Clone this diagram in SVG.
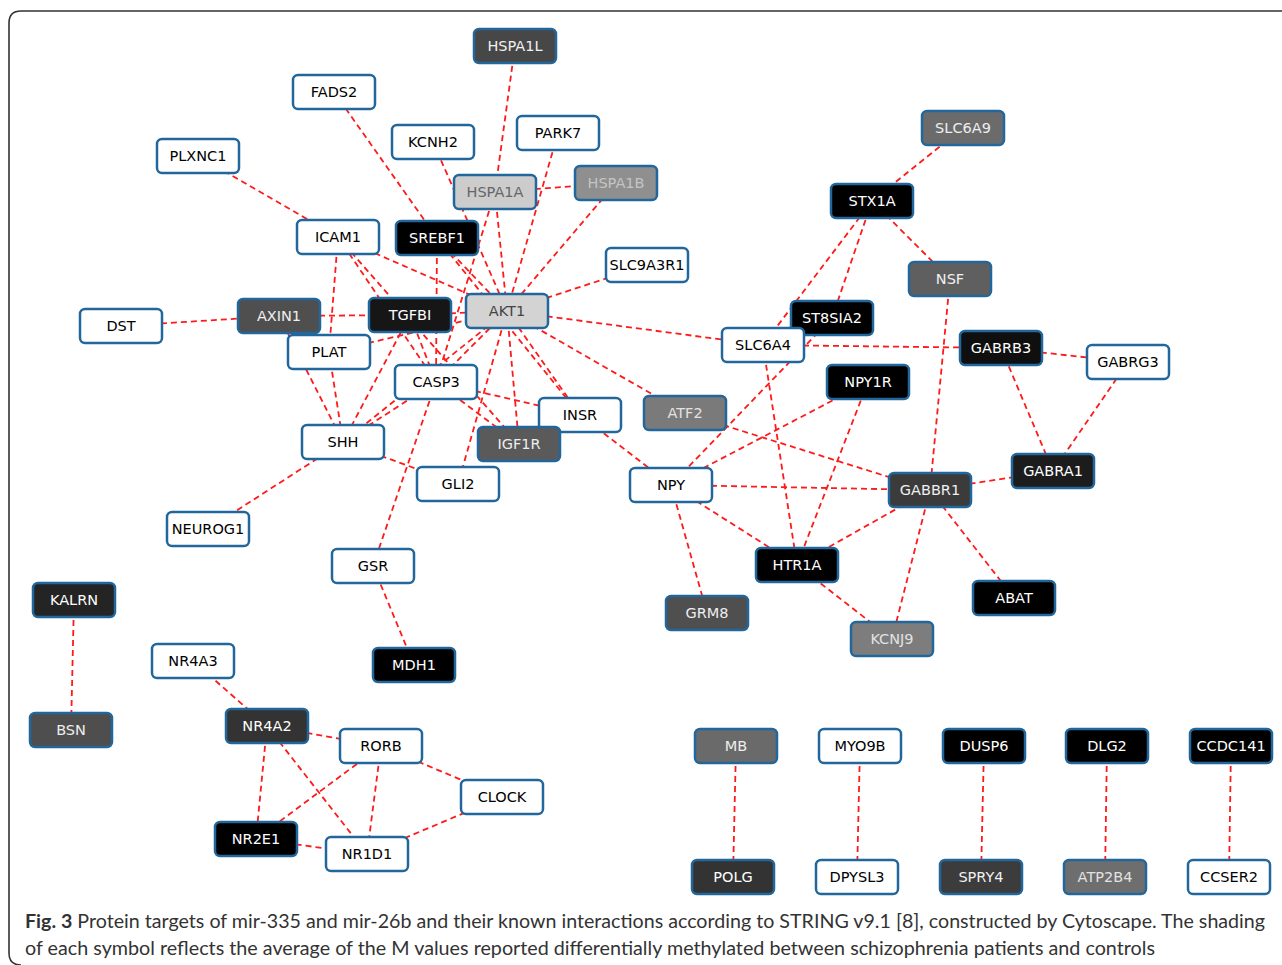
<svg xmlns="http://www.w3.org/2000/svg" width="1282" height="965" viewBox="0 0 1282 965">
<style>
.e line{stroke:#ff1a1a;stroke-width:1.8;stroke-dasharray:6 4;fill:none}
.n rect{stroke:#22679c;stroke-width:2.5;width:82px;height:34px}
.n text{font-family:"DejaVu Sans",sans-serif;font-size:14.5px;text-anchor:middle}
.w rect{fill:#ffffff}.w text{fill:#000}
.cap{font-family:Lato,"Open Sans",sans-serif;font-size:18.5px;fill:#333}
</style>
<rect x="0" y="0" width="1282" height="965" fill="#fff"/>
<path d="M1290 11 H21 Q9 11 9 23 V953 Q9 965 21 965" fill="none" stroke="#333" stroke-width="1.6"/>
<g id="connectors" class="e">
<line x1="515" y1="46" x2="495" y2="192"/>
<line x1="334" y1="92" x2="437" y2="238"/>
<line x1="433" y1="142" x2="507" y2="311"/>
<line x1="558" y1="133" x2="507" y2="311"/>
<line x1="495" y1="192" x2="616" y2="183"/>
<line x1="616" y1="183" x2="507" y2="311"/>
<line x1="495" y1="192" x2="507" y2="311"/>
<line x1="495" y1="192" x2="436" y2="382"/>
<line x1="647" y1="265" x2="507" y2="311"/>
<line x1="198" y1="156" x2="338" y2="237"/>
<line x1="338" y1="237" x2="507" y2="311"/>
<line x1="338" y1="237" x2="329" y2="352"/>
<line x1="338" y1="237" x2="436" y2="382"/>
<line x1="338" y1="237" x2="519" y2="444"/>
<line x1="437" y1="238" x2="507" y2="311"/>
<line x1="437" y1="238" x2="580" y2="415"/>
<line x1="437" y1="238" x2="436" y2="382"/>
<line x1="121" y1="326" x2="279" y2="316"/>
<line x1="279" y1="316" x2="410" y2="315"/>
<line x1="410" y1="315" x2="507" y2="311"/>
<line x1="279" y1="316" x2="343" y2="442"/>
<line x1="329" y1="352" x2="343" y2="442"/>
<line x1="329" y1="352" x2="507" y2="311"/>
<line x1="410" y1="315" x2="436" y2="382"/>
<line x1="410" y1="315" x2="343" y2="442"/>
<line x1="343" y1="442" x2="436" y2="382"/>
<line x1="343" y1="442" x2="507" y2="311"/>
<line x1="436" y1="382" x2="507" y2="311"/>
<line x1="507" y1="311" x2="580" y2="415"/>
<line x1="507" y1="311" x2="519" y2="444"/>
<line x1="507" y1="311" x2="458" y2="484"/>
<line x1="507" y1="311" x2="685" y2="413"/>
<line x1="507" y1="311" x2="763" y2="345"/>
<line x1="436" y1="382" x2="580" y2="415"/>
<line x1="436" y1="382" x2="519" y2="444"/>
<line x1="436" y1="382" x2="373" y2="566"/>
<line x1="343" y1="442" x2="458" y2="484"/>
<line x1="343" y1="442" x2="208" y2="529"/>
<line x1="580" y1="415" x2="671" y2="485"/>
<line x1="373" y1="566" x2="414" y2="665"/>
<line x1="963" y1="128" x2="872" y2="201"/>
<line x1="872" y1="201" x2="950" y2="279"/>
<line x1="872" y1="201" x2="832" y2="318"/>
<line x1="872" y1="201" x2="763" y2="345"/>
<line x1="832" y1="318" x2="671" y2="485"/>
<line x1="763" y1="345" x2="1001" y2="348"/>
<line x1="763" y1="345" x2="797" y2="565"/>
<line x1="950" y1="279" x2="930" y2="490"/>
<line x1="1001" y1="348" x2="1128" y2="362"/>
<line x1="1001" y1="348" x2="1053" y2="471"/>
<line x1="1128" y1="362" x2="1053" y2="471"/>
<line x1="930" y1="490" x2="1053" y2="471"/>
<line x1="868" y1="382" x2="671" y2="485"/>
<line x1="868" y1="382" x2="797" y2="565"/>
<line x1="685" y1="413" x2="930" y2="490"/>
<line x1="671" y1="485" x2="930" y2="490"/>
<line x1="671" y1="485" x2="797" y2="565"/>
<line x1="671" y1="485" x2="707" y2="613"/>
<line x1="930" y1="490" x2="797" y2="565"/>
<line x1="930" y1="490" x2="892" y2="639"/>
<line x1="930" y1="490" x2="1014" y2="598"/>
<line x1="797" y1="565" x2="892" y2="639"/>
<line x1="74" y1="600" x2="71" y2="730"/>
<line x1="193" y1="661" x2="267" y2="726"/>
<line x1="267" y1="726" x2="381" y2="746"/>
<line x1="267" y1="726" x2="256" y2="839"/>
<line x1="267" y1="726" x2="367" y2="854"/>
<line x1="381" y1="746" x2="256" y2="839"/>
<line x1="381" y1="746" x2="367" y2="854"/>
<line x1="381" y1="746" x2="502" y2="797"/>
<line x1="502" y1="797" x2="367" y2="854"/>
<line x1="256" y1="839" x2="367" y2="854"/>
<line x1="736" y1="746" x2="733" y2="877"/>
<line x1="860" y1="746" x2="857" y2="877"/>
<line x1="984" y1="746" x2="981" y2="877"/>
<line x1="1107" y1="746" x2="1105" y2="877"/>
<line x1="1231" y1="746" x2="1229" y2="877"/>
</g>
<g id="n-HSPA1L" class="n"><rect x="474" y="29" rx="5" fill="#474747"/><text x="515" y="51" fill="#f0f0f0">HSPA1L</text></g>
<g id="n-FADS2" class="n w"><rect x="293" y="75" rx="5"/><text x="334" y="97">FADS2</text></g>
<g id="n-KCNH2" class="n w"><rect x="392" y="125" rx="5"/><text x="433" y="147">KCNH2</text></g>
<g id="n-PARK7" class="n w"><rect x="517" y="116" rx="5"/><text x="558" y="138">PARK7</text></g>
<g id="n-PLXNC1" class="n w"><rect x="157" y="139" rx="5"/><text x="198" y="161">PLXNC1</text></g>
<g id="n-SLC6A9" class="n"><rect x="922" y="111" rx="5" fill="#6b6b6b"/><text x="963" y="133" fill="#eeeeee">SLC6A9</text></g>
<g id="n-HSPA1A" class="n"><rect x="454" y="175" rx="5" fill="#cccccc"/><text x="495" y="197" fill="#666666">HSPA1A</text></g>
<g id="n-HSPA1B" class="n"><rect x="575" y="166" rx="5" fill="#8f8f8f"/><text x="616" y="188" fill="#c4c4c4">HSPA1B</text></g>
<g id="n-STX1A" class="n"><rect x="831" y="184" rx="5" fill="#000000"/><text x="872" y="206" fill="#ffffff">STX1A</text></g>
<g id="n-ICAM1" class="n w"><rect x="297" y="220" rx="5"/><text x="338" y="242">ICAM1</text></g>
<g id="n-SREBF1" class="n"><rect x="396" y="221" rx="5" fill="#000000"/><text x="437" y="243" fill="#ffffff">SREBF1</text></g>
<g id="n-SLC9A3R1" class="n w"><rect x="606" y="248" rx="5"/><text x="647" y="270">SLC9A3R1</text></g>
<g id="n-NSF" class="n"><rect x="909" y="262" rx="5" fill="#5f5f5f"/><text x="950" y="284" fill="#f0f0f0">NSF</text></g>
<g id="n-DST" class="n w"><rect x="80" y="309" rx="5"/><text x="121" y="331">DST</text></g>
<g id="n-AXIN1" class="n"><rect x="238" y="299" rx="5" fill="#4f4f4f"/><text x="279" y="321" fill="#f0f0f0">AXIN1</text></g>
<g id="n-TGFBI" class="n"><rect x="369" y="298" rx="5" fill="#161616"/><text x="410" y="320" fill="#ffffff">TGFBI</text></g>
<g id="n-AKT1" class="n"><rect x="466" y="294" rx="5" fill="#d3d3d3"/><text x="507" y="316" fill="#444444">AKT1</text></g>
<g id="n-ST8SIA2" class="n"><rect x="791" y="301" rx="5" fill="#000000"/><text x="832" y="323" fill="#ffffff">ST8SIA2</text></g>
<g id="n-SLC6A4" class="n w"><rect x="722" y="328" rx="5"/><text x="763" y="350">SLC6A4</text></g>
<g id="n-GABRB3" class="n"><rect x="960" y="331" rx="5" fill="#0f0f0f"/><text x="1001" y="353" fill="#ffffff">GABRB3</text></g>
<g id="n-GABRG3" class="n w"><rect x="1087" y="345" rx="5"/><text x="1128" y="367">GABRG3</text></g>
<g id="n-PLAT" class="n w"><rect x="288" y="335" rx="5"/><text x="329" y="357">PLAT</text></g>
<g id="n-NPY1R" class="n"><rect x="827" y="365" rx="5" fill="#000000"/><text x="868" y="387" fill="#ffffff">NPY1R</text></g>
<g id="n-CASP3" class="n w"><rect x="395" y="365" rx="5"/><text x="436" y="387">CASP3</text></g>
<g id="n-INSR" class="n w"><rect x="539" y="398" rx="5"/><text x="580" y="420">INSR</text></g>
<g id="n-ATF2" class="n"><rect x="644" y="396" rx="5" fill="#7a7a7a"/><text x="685" y="418" fill="#e2e2e2">ATF2</text></g>
<g id="n-SHH" class="n w"><rect x="302" y="425" rx="5"/><text x="343" y="447">SHH</text></g>
<g id="n-IGF1R" class="n"><rect x="478" y="427" rx="5" fill="#5a5a5a"/><text x="519" y="449" fill="#eeeeee">IGF1R</text></g>
<g id="n-GLI2" class="n w"><rect x="417" y="467" rx="5"/><text x="458" y="489">GLI2</text></g>
<g id="n-NPY" class="n w"><rect x="630" y="468" rx="5"/><text x="671" y="490">NPY</text></g>
<g id="n-GABBR1" class="n"><rect x="889" y="473" rx="5" fill="#3b3b3b"/><text x="930" y="495" fill="#f0f0f0">GABBR1</text></g>
<g id="n-GABRA1" class="n"><rect x="1012" y="454" rx="5" fill="#1c1c1c"/><text x="1053" y="476" fill="#ffffff">GABRA1</text></g>
<g id="n-NEUROG1" class="n w"><rect x="167" y="512" rx="5"/><text x="208" y="534">NEUROG1</text></g>
<g id="n-GSR" class="n w"><rect x="332" y="549" rx="5"/><text x="373" y="571">GSR</text></g>
<g id="n-HTR1A" class="n"><rect x="756" y="548" rx="5" fill="#000000"/><text x="797" y="570" fill="#ffffff">HTR1A</text></g>
<g id="n-ABAT" class="n"><rect x="973" y="581" rx="5" fill="#000000"/><text x="1014" y="603" fill="#ffffff">ABAT</text></g>
<g id="n-GRM8" class="n"><rect x="666" y="596" rx="5" fill="#4f4f4f"/><text x="707" y="618" fill="#eeeeee">GRM8</text></g>
<g id="n-KCNJ9" class="n"><rect x="851" y="622" rx="5" fill="#7d7d7d"/><text x="892" y="644" fill="#e2e2e2">KCNJ9</text></g>
<g id="n-KALRN" class="n"><rect x="33" y="583" rx="5" fill="#242424"/><text x="74" y="605" fill="#ffffff">KALRN</text></g>
<g id="n-NR4A3" class="n w"><rect x="152" y="644" rx="5"/><text x="193" y="666">NR4A3</text></g>
<g id="n-MDH1" class="n"><rect x="373" y="648" rx="5" fill="#000000"/><text x="414" y="670" fill="#ffffff">MDH1</text></g>
<g id="n-BSN" class="n"><rect x="30" y="713" rx="5" fill="#4e4e4e"/><text x="71" y="735" fill="#eeeeee">BSN</text></g>
<g id="n-NR4A2" class="n"><rect x="226" y="709" rx="5" fill="#333333"/><text x="267" y="731" fill="#ffffff">NR4A2</text></g>
<g id="n-RORB" class="n w"><rect x="340" y="729" rx="5"/><text x="381" y="751">RORB</text></g>
<g id="n-CLOCK" class="n w"><rect x="461" y="780" rx="5"/><text x="502" y="802">CLOCK</text></g>
<g id="n-NR2E1" class="n"><rect x="215" y="822" rx="5" fill="#000000"/><text x="256" y="844" fill="#ffffff">NR2E1</text></g>
<g id="n-NR1D1" class="n w"><rect x="326" y="837" rx="5"/><text x="367" y="859">NR1D1</text></g>
<g id="n-MB" class="n"><rect x="695" y="729" rx="5" fill="#6a6a6a"/><text x="736" y="751" fill="#eeeeee">MB</text></g>
<g id="n-MYO9B" class="n w"><rect x="819" y="729" rx="5"/><text x="860" y="751">MYO9B</text></g>
<g id="n-DUSP6" class="n"><rect x="943" y="729" rx="5" fill="#000000"/><text x="984" y="751" fill="#ffffff">DUSP6</text></g>
<g id="n-DLG2" class="n"><rect x="1066" y="729" rx="5" fill="#000000"/><text x="1107" y="751" fill="#ffffff">DLG2</text></g>
<g id="n-CCDC141" class="n"><rect x="1190" y="729" rx="5" fill="#000000"/><text x="1231" y="751" fill="#ffffff">CCDC141</text></g>
<g id="n-POLG" class="n"><rect x="692" y="860" rx="5" fill="#333333"/><text x="733" y="882" fill="#ffffff">POLG</text></g>
<g id="n-DPYSL3" class="n w"><rect x="816" y="860" rx="5"/><text x="857" y="882">DPYSL3</text></g>
<g id="n-SPRY4" class="n"><rect x="940" y="860" rx="5" fill="#3c3c3c"/><text x="981" y="882" fill="#f0f0f0">SPRY4</text></g>
<g id="n-ATP2B4" class="n"><rect x="1064" y="860" rx="5" fill="#6e6e6e"/><text x="1105" y="882" fill="#e2e2e2">ATP2B4</text></g>
<g id="n-CCSER2" class="n w"><rect x="1188" y="860" rx="5"/><text x="1229" y="882">CCSER2</text></g>
<g id="caption">
<text class="cap" x="25" y="928" textLength="1240" lengthAdjust="spacingAndGlyphs"><tspan font-weight="bold">Fig. 3</tspan> Protein targets of mir-335 and mir-26b and their known interactions according to STRING v9.1 [8], constructed by Cytoscape. The shading</text>
<text class="cap" x="25" y="955" textLength="1130" lengthAdjust="spacingAndGlyphs">of each symbol reflects the average of the M values reported differentially methylated between schizophrenia patients and controls</text>
</g>
</svg>
